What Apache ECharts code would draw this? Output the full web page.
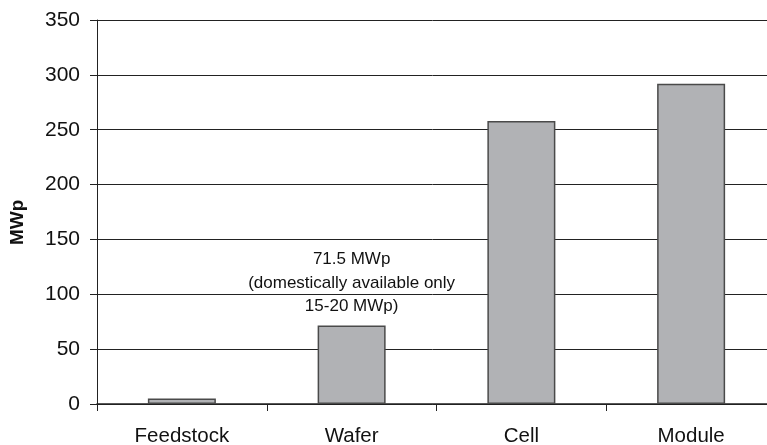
<!DOCTYPE html>
<html>
<head>
<meta charset="utf-8">
<script src="https://cdn.jsdelivr.net/npm/echarts@6/dist/echarts.min.js"></script>
<style>html,body{margin:0;padding:0;background:#fff}#c{width:767px;height:445px}</style>
</head>
<body>
<div id="c"></div>
<script>
const categories = ['Feedstock', 'Wafer', 'Cell', 'Module'];
const values = [5, 71.5, 258, 292];
const yTicks = { min: 0, max: 350, interval: 50 };
const yAxisName = 'MWp';
const annotation = { index: 1, text: '71.5 MWp\n(domestically available only\n15-20 MWp)' };

const chart = echarts.init(document.getElementById('c'));
const font = 'Liberation Sans, Arial, sans-serif';
const data = values.map((v, i) => {
  if (i === annotation.index) {
    return {
      value: v,
      label: {
        show: true, position: 'top', distance: 7,
        formatter: annotation.text,
        fontFamily: font, fontSize: 17, lineHeight: 23.5, color: '#111', align: 'center'
      }
    };
  }
  return v;
});
chart.setOption({
  animation: false,
  grid: { left: 97, width: 679, top: 20, height: 384, containLabel: false, outerBoundsMode: 'none' },
  graphic: [{
    type: 'text', x: 8, y: 245, rotation: Math.PI / 2,
    style: { text: yAxisName, fontFamily: font, fontSize: 19, fontWeight: 'bold', fill: '#111' }
  }],
  xAxis: {
    type: 'category', data: categories, boundaryGap: true,
    axisLine: { lineStyle: { color: '#222', width: 1.5 } },
    axisTick: { show: true, length: 7, alignWithLabel: false, lineStyle: { color: '#222' } },
    axisLabel: { fontFamily: font, fontSize: 20.5, color: '#111', margin: 22 }
  },
  yAxis: {
    type: 'value', min: yTicks.min, max: yTicks.max, interval: yTicks.interval,
    axisLine: { show: true, lineStyle: { color: '#222', width: 1 } },
    axisTick: { show: true, length: 7, lineStyle: { color: '#222' } },
    axisLabel: { fontFamily: font, fontSize: 21, color: '#111', margin: 17 },
    splitLine: { show: true, lineStyle: { color: '#222', width: 1 } }
  },
  series: [{
    type: 'bar', data: data, barWidth: 68,
    itemStyle: { color: '#b1b2b5', borderColor: '#4a4a4a', borderWidth: 1.5 }
  }]
});
</script>
</body>
</html>
